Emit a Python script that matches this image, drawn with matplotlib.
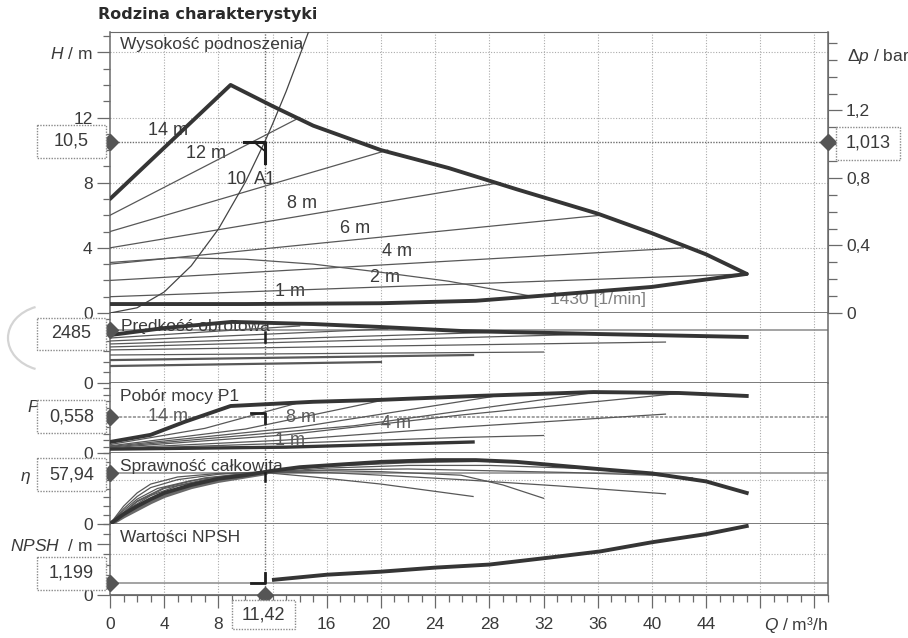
import matplotlib
matplotlib.use("Agg")
import matplotlib.pyplot as plt
from matplotlib.patches import Rectangle, Arc
from matplotlib.ticker import MultipleLocator, FixedLocator

plt.rcParams['font.family'] = ['Liberation Sans', 'DejaVu Sans']
plt.rcParams['mathtext.fontset'] = 'custom'
plt.rcParams['mathtext.rm'] = 'Liberation Sans'
plt.rcParams['mathtext.it'] = 'Liberation Sans:italic'

# punkt pracy A1
q_op = 11.42
h_op = 10.5
dp_op = 1.013
n_op = 2485
p_op = 0.558
eta_op = 57.94
npsh_op = 1.199

# wysokość podnoszenia H(Q)
q_hmax = [0, 8.9, 12, 15, 20, 25, 30, 36, 40, 44, 47]
h_hmax = [7.0, 14.0, 12.7, 11.5, 10.0, 8.9, 7.6, 6.1, 4.9, 3.6, 2.4]
q_hmin = [0, 10, 20, 27, 32.5, 40, 47]
h_hmin = [0.55, 0.55, 0.6, 0.75, 1.1, 1.6, 2.4]
q_h1430 = [0, 5, 10, 15, 20, 25, 31]
h_h1430 = [3.1, 3.4, 3.3, 3.0, 2.5, 1.95, 1.05]
dpv_h0 = [6.0, 5.0, 4.0, 3.0, 2.0, 1.0]
dpv_q1 = [14.0, 20.5, 28.8, 36.2, 42.3, 47.0]
dpv_h1 = [12.0, 10.0, 8.0, 6.0, 4.0, 2.4]
q_sys = [0, 2, 4, 6, 8, 10, 11.42, 12, 13, 14, 14.9]
h_sys = [0, 0.32, 1.29, 2.9, 5.15, 8.05, 10.5, 11.6, 13.6, 15.8, 17.8]

# prędkość obrotowa n(Q)
q_nmax = [0, 4, 9, 15, 20, 26, 36, 47]
n_nmax = [2260, 2590, 2880, 2780, 2640, 2450, 2310, 2170]
n_q1 = [14, 20.5, 28.8, 36, 41, 32, 26.8, 20]
n_start = [2120, 1980, 1840, 1700, 1560, 1320, 1080, 800]
n_end = [2690, 2550, 2400, 2310, 1930, 1460, 1320, 990]

# pobór mocy P1(Q)
q_pmax = [0, 3, 5.5, 8.9, 15, 20, 27, 35.7, 42, 47]
p_pmax = [0.17, 0.28, 0.48, 0.725, 0.79, 0.82, 0.88, 0.94, 0.926, 0.88]
q_pmin = [0, 13, 26.8]
p_pmin = [0.06, 0.09, 0.17]
p_lines_q = [[0, 7, 14], [0, 10, 20.5], [0, 14, 28.8], [0, 18, 36],
             [0, 13, 25.9, 42.3], [0, 13, 25.9, 41], [0, 13, 25.9, 32]]
p_lines_p = [[0.13, 0.38, 0.78], [0.11, 0.37, 0.83], [0.10, 0.40, 0.89], [0.09, 0.42, 0.94],
             [0.08, 0.28, 0.586, 0.925], [0.07, 0.20, 0.40, 0.60], [0.06, 0.15, 0.24, 0.27]]

# sprawność całkowita eta(Q)
q_emax = [0, 1, 2, 3, 4, 6, 8, 10, 12, 14, 17, 20, 24, 27, 30, 33, 36, 40, 44, 47]
e_emax = [0, 11, 20, 28, 35, 44, 51, 55, 60, 64, 67, 70, 72, 72, 70, 66, 62, 57, 48, 35]
q_eband = [0, 1, 2, 3, 4, 6, 8, 10, 11.42]
e_eband = [0, 9, 17, 25, 32, 42, 49, 54, 57.5]
e_lines_q = [[0, 1, 2, 3, 5, 8, 11.4, 15, 20, 26.8],
             [0, 1, 2, 3, 5, 8, 11.4, 16, 20, 25.9, 29, 32],
             [0, 1, 2, 3.5, 6, 9, 11.4, 16, 20, 25.9, 33, 41],
             [0, 1.5, 3, 5, 8, 11.4, 16, 22, 28, 34, 40, 43],
             [0, 2, 4, 7, 11.4, 16, 22, 28, 36],
             [0, 2, 4, 7, 11.4, 16, 22, 28.8]]
e_lines_e = [[0, 20, 35, 45, 53, 57, 58, 53, 45, 31],
             [0, 17, 31, 41, 50, 56, 59, 60, 59, 55, 44, 29],
             [0, 15, 28, 40, 49, 55, 58, 58, 55, 50, 43, 34],
             [0, 18, 32, 43, 52, 58, 61, 62, 60, 58, 55, 52],
             [0, 25, 40, 50, 58, 63, 66, 66, 62],
             [0, 26, 41, 52, 59, 65, 69, 71]]

# NPSH(Q)
q_npsh = [12.1, 16, 20, 24, 28, 32.5, 36.2, 40, 44, 47]
v_npsh = [1.5, 2.0, 2.3, 2.7, 3.0, 3.7, 4.3, 5.2, 6.0, 6.8]

q_ticks = list(range(0, 53, 4))
# 12 zasłania okienko z wartością Q punktu pracy
q_ticklabels = [str(q) if q <= 44 and q != 12 else "" for q in q_ticks]

INK = "#353535"
THIN = "#585858"
GRID = "#ababab"
FRAME = "#6a6a6a"
TXT = "#3a3a3a"
FS = 12.5

FW, FH = 908, 638
XL, XR = 110, 828
fig = plt.figure(figsize=(FW / 100, FH / 100), dpi=100)


def px_axes(top, bottom):
    return fig.add_axes([XL / FW, 1 - bottom / FH, (XR - XL) / FW, (bottom - top) / FH])


def fpos(x, y):
    return x / FW, 1 - y / FH


axH = px_axes(32, 313)
axN = px_axes(313, 383)
axP = px_axes(383, 453)
axE = px_axes(453, 524)
axS = px_axes(524, 595)
panels = [axH, axN, axP, axE, axS]

for ax in panels:
    ax.set_xlim(0, 53)
    ax.set_facecolor("none")
    ax.spines["top"].set_visible(False)
    ax.spines["bottom"].set_visible(False)
    for s in ("left", "right"):
        ax.spines[s].set_color(FRAME)
        ax.spines[s].set_linewidth(1.1)
    ax.tick_params(axis="x", which="both", bottom=False, labelbottom=False)
    ax.tick_params(axis="y", which="both", direction="out", color=FRAME,
                   labelsize=FS, labelcolor=TXT, pad=3, width=0.9)
    ax.tick_params(axis="y", which="major", length=9.5)
    ax.tick_params(axis="y", which="minor", length=5)
    for q in q_ticks[1:]:
        ax.axvline(q, color=GRID, lw=0.8, ls=(0, (1, 1.5)), zorder=1)
    ax.axvline(q_op, color="#6e6e6e", lw=1.0, ls=(0, (1, 1)), zorder=2)
    ax.axhline(0, color="#7a7a7a", lw=1.4, zorder=2)

# --- H panel
axH.spines["top"].set_visible(True)
axH.spines["top"].set_color(FRAME)
axH.set_ylim(0, 17.25)
axH.yaxis.set_major_locator(FixedLocator([0, 4, 8, 12, 16]))
axH.set_yticklabels(["0", "4", "8", "12", "$H$ / m"])
axH.yaxis.set_minor_locator(MultipleLocator(1))
for h in (4, 8, 12, 16):
    axH.axhline(h, color=GRID, lw=0.8, ls=(0, (1, 1.5)), zorder=1)
axH.axhline(h_op, color="#6e6e6e", lw=1.0, ls=(0, (1, 1)), zorder=2)

axH.plot(q_hmax, h_hmax, color=INK, lw=2.8, zorder=4, solid_capstyle="round")
axH.plot(q_hmin, h_hmin, color=INK, lw=2.8, zorder=4, solid_capstyle="round")
axH.plot(q_h1430, h_h1430, color=THIN, lw=0.9, zorder=3)
for h0, q1, h1 in zip(dpv_h0, dpv_q1, dpv_h1):
    axH.plot([0, q1], [h0, h1], color=THIN, lw=0.9, zorder=3)
axH.plot(q_sys, h_sys, color="#444444", lw=0.9, zorder=3)
axH.plot([q_op - 1.5, q_op, q_op], [h_op, h_op, h_op - 1.3], color="#1e1e1e", lw=2.2, zorder=5)
axH.plot([q_op - 0.8, q_op], [h_op, h_op - 0.55], color="#1e1e1e", lw=1.2, zorder=5)
axH.plot(0, h_op, marker="D", ms=8, color="#555555", clip_on=False, zorder=6)

h_labels = [("14 m", 2.8, 11.2), ("12 m", 5.6, 9.8), ("10", 8.6, 8.2), ("A1", 10.6, 8.2),
            ("8 m", 13.1, 6.75), ("6 m", 17.0, 5.2), ("4 m", 20.1, 3.75),
            ("2 m", 19.2, 2.15), ("1 m", 12.2, 1.3)]
for s, q, h in h_labels:
    axH.text(q, h, s, fontsize=13, color=TXT, ha="left", va="center", zorder=2)
axH.text(32.5, 0.8, "1430 [1/min]", fontsize=12.5, color="#808080", ha="left", va="center", zorder=2)
axH.text(*fpos(120, 45), "Wysokość podnoszenia", transform=fig.transFigure,
         fontsize=FS, color=TXT, ha="left", va="center", zorder=2)

axR = axH.twinx()
axR.set_ylim(0, 1.665)
for s in ("left", "top", "bottom"):
    axR.spines[s].set_visible(False)
axR.spines["right"].set_color(FRAME)
axR.yaxis.set_major_locator(FixedLocator([0, 0.4, 0.8, 1.2]))
axR.set_yticklabels(["0", "0,4", "0,8", "1,2"])
axR.yaxis.set_minor_locator(MultipleLocator(0.1))
axR.tick_params(axis="y", which="both", direction="out", color=FRAME,
                labelsize=FS, labelcolor=TXT, pad=3, width=0.9)
axR.tick_params(axis="y", which="major", length=10)
axR.tick_params(axis="y", which="minor", length=6.5)
axR.plot(53, dp_op, marker="D", ms=8, color="#555555", clip_on=False, zorder=6)

# --- prędkość obrotowa
axN.set_ylim(0, 3300)
axN.yaxis.set_major_locator(FixedLocator([0]))
axN.yaxis.set_minor_locator(MultipleLocator(500))
axN.axhline(n_op, color="#8a8a8a", lw=1.1, zorder=2)
axN.plot(q_nmax, n_nmax, color=INK, lw=2.8, zorder=4)
for i, (q1, n0, n1) in enumerate(zip(n_q1, n_start, n_end)):
    axN.plot([0, q1], [n0, n1], color=THIN, lw=1.6 if i >= 6 else 0.9, zorder=3)
axN.plot([q_op, q_op], [n_op - 80, n_op - 560], color="#1e1e1e", lw=1.8, zorder=5)
axN.plot(0, n_op, marker="D", ms=8, color="#555555", clip_on=False, zorder=6)
axN.text(*fpos(121, 326), "Prędkość obrotowa", transform=fig.transFigure,
         fontsize=FS, color=TXT, ha="left", va="center", zorder=2)

# --- pobór mocy
axP.set_ylim(0, 1.08)
axP.yaxis.set_major_locator(FixedLocator([0]))
axP.yaxis.set_minor_locator(MultipleLocator(0.1))
axP.axhline(p_op, color="#8a8a8a", lw=1.1, ls=(0, (2, 1)), zorder=2)
axP.plot(q_pmax, p_pmax, color=INK, lw=2.8, zorder=4)
axP.plot(q_pmin, p_pmin, color=INK, lw=2.4, zorder=4)
for qs, ps in zip(p_lines_q, p_lines_p):
    axP.plot(qs, ps, color=THIN, lw=0.9, zorder=3)
axP.plot([q_op - 1.0, q_op, q_op], [p_op + 0.06, p_op + 0.06, p_op - 0.1], color="#1e1e1e", lw=2.0, zorder=5)
axP.plot(0, p_op, marker="D", ms=8, color="#555555", clip_on=False, zorder=6)
for s, q, p in [("14 m", 2.8, 0.57), ("8 m", 13.0, 0.54), ("4 m", 20.0, 0.46), ("1 m", 12.2, 0.2)]:
    axP.text(q, p, s, fontsize=13, color="#5c5c5c", ha="left", va="center", zorder=2)
axP.text(*fpos(120, 396), "Pobór mocy P1", transform=fig.transFigure,
         fontsize=FS, color=TXT, ha="left", va="center", zorder=2)

# --- sprawność
axE.set_ylim(0, 80)
axE.yaxis.set_major_locator(FixedLocator([0]))
axE.yaxis.set_minor_locator(MultipleLocator(10))
axE.axhline(eta_op, color="#8a8a8a", lw=1.1, zorder=2)
axE.axhline(50, color=GRID, lw=0.8, ls=(0, (1, 1.5)), zorder=1)
axE.plot(q_emax, e_emax, color=INK, lw=2.8, zorder=4)
axE.plot(q_eband, e_eband, color="#6a6a6a", lw=3.5, zorder=3)
for qs, es in zip(e_lines_q, e_lines_e):
    axE.plot(qs, es, color=THIN, lw=0.9, zorder=3)
axE.plot([q_op, q_op], [eta_op, eta_op - 10], color="#1e1e1e", lw=1.8, zorder=5)
axE.plot(0, eta_op, marker="D", ms=8, color="#555555", clip_on=False, zorder=6)
axE.text(*fpos(120, 467), "Sprawność całkowita", transform=fig.transFigure,
         fontsize=FS, color=TXT, ha="left", va="center", zorder=2)

# --- NPSH
axS.set_ylim(0, 7)
axS.yaxis.set_major_locator(FixedLocator([0, 5]))
axS.set_yticklabels(["0", "$NPSH$  / m"])
axS.yaxis.set_minor_locator(MultipleLocator(1))
axS.axhline(npsh_op, color="#8a8a8a", lw=1.1, zorder=2)
axS.axhline(4, color=GRID, lw=0.8, ls=(0, (1, 1.5)), zorder=1)
axS.plot(q_npsh, v_npsh, color=INK, lw=2.8, zorder=4)
axS.plot([q_op - 1.0, q_op, q_op], [npsh_op, npsh_op, npsh_op + 1.0], color="#1e1e1e", lw=2.0, zorder=5)
axS.plot(0, npsh_op, marker="D", ms=8, color="#555555", clip_on=False, zorder=6)
axS.plot(q_op, 0, marker="D", ms=8, color="#555555", clip_on=False, zorder=6)
axS.text(*fpos(120, 537), "Wartości NPSH", transform=fig.transFigure,
         fontsize=FS, color=TXT, ha="left", va="center", zorder=2)

axS.spines["bottom"].set_visible(True)
axS.spines["bottom"].set_color(FRAME)
axS.xaxis.set_major_locator(FixedLocator(q_ticks))
axS.set_xticklabels(q_ticklabels)
axS.xaxis.set_minor_locator(MultipleLocator(1))
axS.tick_params(axis="x", which="both", bottom=True, labelbottom=True, direction="out",
                color=FRAME, labelsize=FS, labelcolor=TXT, pad=6, width=0.9)
axS.tick_params(axis="x", which="major", length=9.5)
axS.tick_params(axis="x", which="minor", length=5)

# --- nakładka w pikselach: okienka wartości, opisy osi
ov = fig.add_axes([0, 0, 1, 1])
ov.set_xlim(0, FW)
ov.set_ylim(FH, 0)
ov.axis("off")
ov.set_zorder(10)
ov.patch.set_alpha(0)

boxes = [("10,5", 37, 125, 69, 33), ("2485", 37, 318, 69, 32), ("0,558", 37, 400, 69, 33),
         ("57,94", 37, 458, 69, 33), ("1,199", 37, 557, 69, 33), ("1,013", 836, 127, 64, 33),
         ("11,42", 232, 600, 63, 29)]
for s, x, y, w, h in boxes:
    ov.add_patch(Rectangle((x, y), w, h, facecolor="white", edgecolor="#8a8a8a",
                           lw=1.0, ls=(0, (1, 1)), zorder=4))
    ov.text(x + w / 2, y + h / 2, s, fontsize=13, color=TXT, ha="center", va="center", zorder=5)

ov.text(27, 407, "$P$", fontsize=FS, color=TXT, ha="left", va="center", zorder=3)
ov.text(20, 478, r"$\eta$", fontsize=FS, color=TXT, ha="left", va="center", zorder=3)
ov.text(847, 57, r"$\Delta p$ / bar", fontsize=FS, color=TXT, ha="left", va="center", zorder=3)
ov.text(828, 625, "$Q$ / m³/h", fontsize=FS, color=TXT, ha="right", va="center", zorder=3)
ov.add_patch(Arc((50, 338), 84, 66, theta1=115, theta2=245, color="#d4d4d4", lw=1.6, zorder=2))

fig.text(*fpos(98, 14), "Rodzina charakterystyki", family="DejaVu Sans", fontweight="bold",
         fontsize=11.5, color="#2a2a2a", ha="left", va="center")

fig.savefig("out.png", dpi=100)
